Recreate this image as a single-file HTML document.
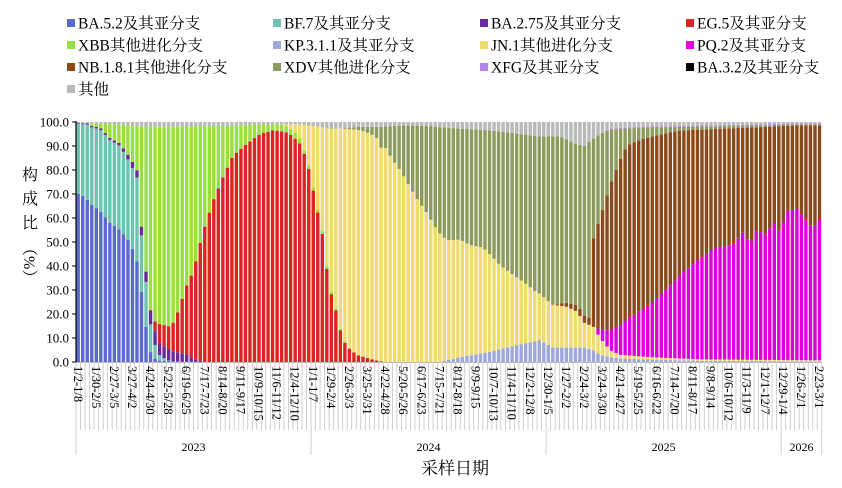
<!DOCTYPE html>
<html><head><meta charset="utf-8">
<style>
body{margin:0;background:#fff;}
svg{display:block;font-family:"Liberation Serif","Noto Serif CJK SC",serif;}
</style></head><body>
<svg id="s" width="842" height="488" xmlns="http://www.w3.org/2000/svg"></svg>
<script>
const S=document.getElementById('s');
let h='';
const X0=76,STEP=4.52,N=165,Y0=362,K=2.4;
function I(p,x){if(x<=p[0][0])return p[0][1];for(let i=1;i<p.length;i++){if(x<=p[i][0]){const a=p[i-1],b=p[i];return a[1]+(b[1]-a[1])*(x-a[0])/(b[0]-a[0]);}}return p[p.length-1][1];}
const D={
blue:[[76,70],[80,72],[90,66],[100,63],[110,58],[120,55],[130,50],[137,42],[143,25],[148,8],[152,2],[160,0.5],[200,0]],
teal:[[76,29],[100,34],[120,35],[130,33],[137,35],[143,20],[148,18],[152,8],[160,2],[170,0]],
purple:[[76,0.3],[120,1],[137,3],[145,4],[152,6],[175,4],[187,3],[195,1],[205,0]],
red:[[150,0],[155,4],[160,8],[170,10],[175,13],[187,29],[193,36],[203,54],[213,67],[223,77],[233,86],[247,91],[260,95],[273,96.5],[285,96],[293,94],[300,91],[307,84],[313,72],[318,62],[323,52],[328,35],[332,27],[337,20],[342,10],[348,6],[357,3],[373,1],[385,0]],
xbb:[[300,1.5],[310,1.5],[330,1],[345,0.5],[360,0]],
kp:[[440,0],[460,2],[487,4],[507,6],[527,8],[540,9],[553,6],[570,6],[585,6],[593,5],[600,3],[610,2],[620,1.5],[650,1],[700,0.5],[822,0.3]],
jn:[[280,0],[288,1],[293,3],[298,4],[383,91],[393,84],[400,80],[407,75],[417,68],[427,62],[437,55],[447,50],[460,49],[470,46],[483,44],[493,39],[500,35],[510,31],[520,27],[530,23],[537,20],[550,18],[567,17],[577,15],[585,10],[593,10],[600,7],[610,3],[620,1.5],[650,1],[700,0.6],[822,0.4]],
pq:[[595,0],[597,2],[603,5],[617,11],[627,15],[647,21],[660,26],[670,30],[683,36],[697,41],[713,46],[733,48],[743,53],[750,48],[757,54],[767,52],[773,58],[780,53],[787,62],[797,63],[803,60],[813,55],[822,60]],
nb:[[555,0],[560,1],[570,2],[580,3]],
xdv:[[340,0],[355,1],[365,2],[375,4],[380,6],[560,67],[575,66],[580,63],[588,50],[593,42],[600,35],[607,27],[613,20],[620,13],[627,7],[640,5],[660,3],[680,1.5],[727,1],[793,0.5],[822,0.5]],
xfg:[[600,0],[620,0.4],[822,0.4]],
oth:[[76,0.5],[120,1],[140,2],[170,2],[240,1.5],[260,1],[295,1],[300,1],[320,2],[330,3],[345,2.5],[360,2],[380,2],[400,1.5],[420,1.5],[450,2.5],[490,3.5],[520,5],[540,6],[560,6],[575,9],[585,10],[590,8],[600,5],[610,3],[620,2.5],[640,2],[700,1.5],[760,1],[800,0.5],[822,0.5]]
};
const C={blue:'#5b69cc',teal:'#6fc2b2',purple:'#6a2a9c',red:'#dc2424',xbb:'#98e03e',kp:'#9ea8dc',jn:'#f0db6e',pq:'#dd00dd',nb:'#8b4a1c',xdv:'#8c9a5c',xfg:'#b383e6',bk:'#000',oth:'#b9b9b9'};
const order=['blue','teal','purple','red','xbb','kp','jn','pq','nb','xdv','xfg','oth'];
function rem(x){return x<300?'xbb':x<380?'jn':x<590?'xdv':'nb';}
for(let i=0;i<N;i++){
 const x=X0+(i+0.5)*STEP;const r=rem(x);const v={};let s=0;
 for(const k of order){if(k===r)continue;let t=D[k]?I(D[k],x):0;if(k==='xbb'&&x<300)t=0;if(k==='jn'&&x>=300&&x<380)t=0;if(k==='xdv'&&x>=380&&x<590)t=0;if(k==='nb'&&x>=590)t=0;
  if(k==='xbb'&&x>=360)t=0;if(k==='nb'&&x<555)t=0;v[k]=Math.max(0,t);s+=v[k];}
 if(s>100){for(const k in v)v[k]*=100/s;s=100;}
 v[r]=Math.max(0,100-s);
 let cum=0;const bx=X0+i*STEP+0.5,bw=STEP-1.1;
 for(const k of order){const val=v[k];if(val<=0)continue;const y1=Y0-cum*K,y2=Y0-(cum+val)*K;
  h+=`<rect x="${bx.toFixed(2)}" y="${y2.toFixed(2)}" width="${bw.toFixed(2)}" height="${(y1-y2).toFixed(2)}" fill="${C[k]}"/>`;cum+=val;}
}
h+=`<line x1="${X0}" y1="121" x2="${X0}" y2="362" stroke="#000" stroke-width="1.2"/>`;
for(let p=0;p<=100;p+=10){const y=Y0-p*K;h+=`<line x1="72" y1="${y}" x2="${X0}" y2="${y}" stroke="#000"/><text x="69" y="${y+4.5}" font-size="13" text-anchor="end">${p.toFixed(1)}</text>`;}
h+=`<line x1="${X0}" y1="362.5" x2="822" y2="362.5" stroke="#bbb"/>`;
for(let i=0;i<=N;i++){const x=X0+i*STEP;const yr=(i%52===0&&i<=156)||i===N;h+=`<line x1="${x.toFixed(2)}" y1="363" x2="${x.toFixed(2)}" y2="${yr?455:430}" stroke="#c4c4c4" stroke-width="0.8"/>`;}
const t0=new Date(Date.UTC(2023,0,2));
for(let i=0;i<N;i+=4){const a=new Date(t0.getTime()+i*7*864e5),b=new Date(a.getTime()+6*864e5);
 const lab=`${a.getUTCMonth()+1}/${a.getUTCDate()}-${b.getUTCMonth()+1}/${b.getUTCDate()}`;const x=X0+(i+0.5)*STEP;
 h+=`<text transform="translate(${(x-4.5).toFixed(2)},366) rotate(90)" font-size="12.5">${lab}</text>`;}
[[2023,0,52],[2024,52,104],[2025,104,156],[2026,156,165]].forEach(([y,a,b])=>{h+=`<text x="${X0+(a+b)/2*STEP}" y="451" font-size="12" text-anchor="middle">${y}</text>`;});
h+=`<text x="455" y="474" font-size="17" text-anchor="middle">采样日期</text>`;
h+=`<text font-size="16" text-anchor="middle"><tspan x="30" y="180">构</tspan><tspan x="30" y="204">成</tspan><tspan x="30" y="228">比</tspan></text>`;
h+=`<text transform="translate(24,240) rotate(90)" font-size="16">（%）</text>`;
const L=[['blue','BA.5.2及其亚分支'],['teal','BF.7及其亚分支'],['purple','BA.2.75及其亚分支'],['red','EG.5及其亚分支'],['xbb','XBB其他进化分支'],['kp','KP.3.1.1及其亚分支'],['jn','JN.1其他进化分支'],['pq','PQ.2及其亚分支'],['nb','NB.1.8.1其他进化分支'],['xdv','XDV其他进化分支'],['xfg','XFG及其亚分支'],['bk','BA.3.2及其亚分支'],['oth','其他']];
const cx=[67,273,480,686];
L.forEach(([k,t],j)=>{const x=cx[j%4],y=23+Math.floor(j/4)*22;h+=`<rect x="${x}" y="${y-4}" width="8" height="8" fill="${C[k]}"/><text x="${x+11}" y="${y+5.5}" font-size="15.5">${t}</text>`;});
S.innerHTML=h;
</script>
</body></html>
